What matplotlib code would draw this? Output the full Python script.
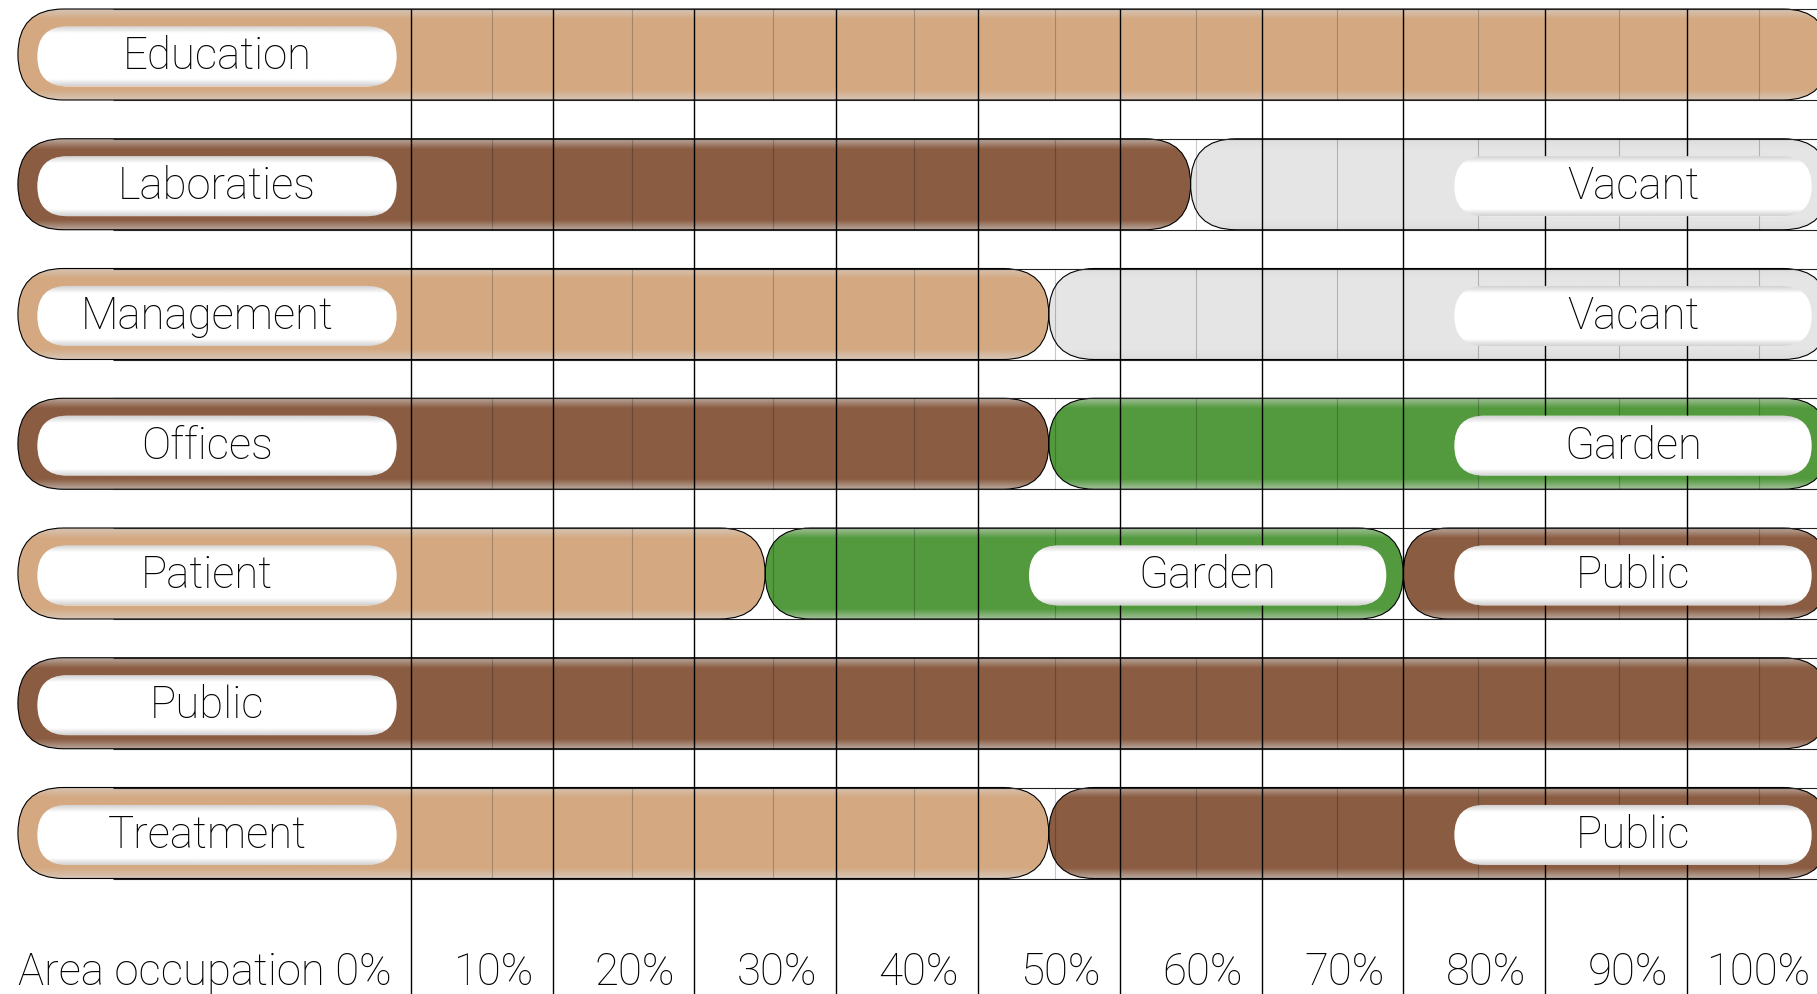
import numpy as np
import matplotlib.pyplot as plt
from matplotlib.patches import FancyBboxPatch

# ---- data (shares in % of the area) ----
rows = ["Education", "Laboraties", "Management", "Offices", "Patient", "Public", "Treatment"]
own_share = [100, 55, 45, 45, 25, 100, 45]
own_tone = ["light", "dark", "light", "dark", "light", "dark", "light"]
second_use = [None, "Vacant", "Vacant", "Garden", "Garden", None, "Public"]
second_share = [0, 45, 55, 55, 45, 0, 55]
third_use = [None, None, None, None, "Public", None, None]
third_share = [0, 0, 0, 0, 30, 0, 0]

ticks = [0, 10, 20, 30, 40, 50, 60, 70, 80, 90, 100]
tick_labels = ["Area occupation 0%", "10%", "20%", "30%", "40%", "50%",
               "60%", "70%", "80%", "90%", "100%"]

COLORS = {"light": "#D4A982", "dark": "#8A5C42", "Public": "#8A5C42",
          "Garden": "#529A3D", "Vacant": "#E5E5E5"}

# ---- layout (pixels of the 1817x994 canvas) ----
W, H = 1817, 994
ZERO_PX, PCT_PX = 410.7, 14.18      # x of 0 %, pixels per 1 %
ROW0_PX, ROW_PX = 54.5, 129.75      # centre of first row, row pitch
BAR_H = 91 / ROW_PX
PILL_H = 60 / ROW_PX
BAR_LEFT = -27.7                    # bars start left of the 0 % line
LEFT_PILL = (-26.33, -0.99)
RIGHT_PILL_W, RIGHT_PILL_GAP = 25.2, 1.2
MINOR_START, MINOR_STEP = 5.7, 9.935   # faint dividers inside the bars
label_nudge = [0, 0, -0.7, -0.7, -0.7, -0.7, -0.7]

FONT = dict(family=["Roboto", "DejaVu Sans"], weight="light", color="black")
FS = 31.5

fig = plt.figure(figsize=(W / 100, H / 100), dpi=100)
ax = fig.add_axes([0, 0, 1, 1])
ax.axis("off")
xlim = (-ZERO_PX / PCT_PX, (W - ZERO_PX) / PCT_PX)
ylim = ((H - ROW0_PX) / ROW_PX, -ROW0_PX / ROW_PX)
sx, sy = PCT_PX, ROW_PX


def capsule(x0, x1, yc, h, fc, z, ec="none", lw=0.0):
    r = h / 2 * sy / sx
    p = FancyBboxPatch((x0, yc - h / 2), x1 - x0, h,
                       boxstyle=f"round,pad=0,rounding_size={r}",
                       mutation_aspect=sx / sy, fc=fc, ec=ec, lw=lw, zorder=z)
    ax.add_patch(p)
    return p


def shade(patch, x0, x1, yc, h, rgb, edge_alpha, band_px, z):
    t = np.linspace(0, 1, 200)
    dist = np.minimum(t, 1 - t) * h * sy
    img = np.zeros((200, 1, 4))
    img[..., :3] = rgb
    img[..., 3] = (edge_alpha * np.clip(1 - dist / band_px, 0, 1))[:, None]
    im = ax.imshow(img, extent=(x0, x1, yc + h / 2, yc - h / 2), aspect="auto",
                   interpolation="bilinear", zorder=z)
    im.set_clip_path(patch)


def segment(x0, x1, yc, color):
    p = capsule(x0, x1, yc, BAR_H, color, 2)
    shade(p, x0, x1, yc, BAR_H, (0.85, 0.85, 0.85), 0.6, 10, 2.1)
    capsule(x0, x1, yc, BAR_H, "none", 2.2, ec="black", lw=0.8)


def pill(x0, x1, yc, text, dx=0):
    p = capsule(x0, x1, yc + 0.015, PILL_H, "white", 4)
    shade(p, x0, x1, yc + 0.015, PILL_H, (0.6, 0.6, 0.6), 0.45, 7, 4.1)
    ax.text((x0 + x1) / 2 + dx, yc + 0.02, text, ha="center", va="center",
            fontsize=FS, zorder=5, **FONT)


minor = [MINOR_START + k * MINOR_STEP for k in range(len(ticks) - 1)]
for i, name in enumerate(rows):
    yc = i
    # first (own) use
    end1 = own_share[i]
    segment(BAR_LEFT, end1, yc, COLORS[own_tone[i]])
    pill(LEFT_PILL[0], LEFT_PILL[1], yc, name, label_nudge[i])
    start = end1
    for use, share in ((second_use[i], second_share[i]), (third_use[i], third_share[i])):
        if use is None:
            continue
        end = start + share
        segment(start, end, yc, COLORS[use])
        pill(end - RIGHT_PILL_GAP - RIGHT_PILL_W, end - RIGHT_PILL_GAP, yc, use)
        start = end
    ax.vlines(minor, yc - BAR_H / 2, yc + BAR_H / 2, color=(0, 0, 0, 0.22), lw=0.8, zorder=3)
    ax.hlines([yc - BAR_H / 2, yc + BAR_H / 2], -21, 100, color="#222222", lw=0.8, zorder=2.3)

# major grid lines from the first bar down to the bottom
ax.vlines(ticks, -BAR_H / 2, ylim[0], color="black", lw=1.0, zorder=3)

# axis labels right-aligned just left of each grid line
base_y = (985 - ROW0_PX) / ROW_PX
for t, lab in zip(ticks, tick_labels):
    ax.text(t - 19 / PCT_PX, base_y, lab, ha="right", va="baseline",
            fontsize=FS, **FONT)

ax.set_xlim(*xlim)
ax.set_ylim(*ylim)
fig.savefig("out.png", dpi=100, facecolor="white")
